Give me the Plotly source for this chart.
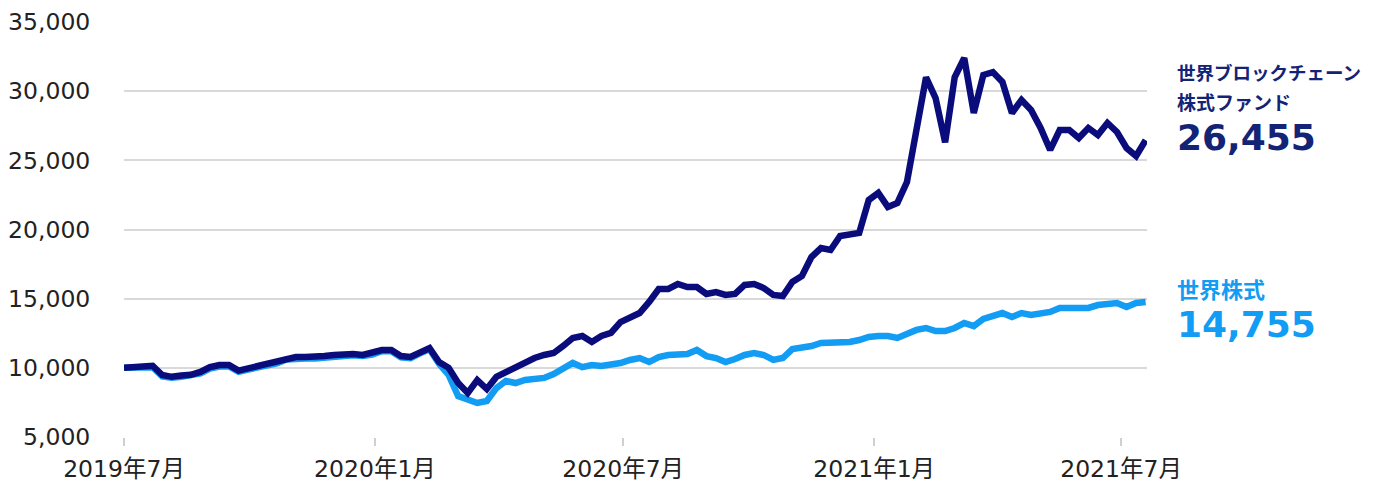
import pandas as pd
import plotly.graph_objects as go

# weekly observation dates
dates = pd.date_range("2019-07-01", periods=108, freq="7D")

blockchain_fund = [
    10000, 10080, 10150, 10150, 9480, 9350, 9450, 9500, 9700, 10050,
    10200, 10200, 9800, 9980, 10130, 10280, 10420, 10700, 10780, 10780,
    10780, 10850, 10930, 11000, 11000, 10930, 11070, 11290, 11290, 10850,
    10780, 11150, 11430, 10420, 10000, 8900, 8180, 9120, 8470, 9340,
    9700, 10000, 10350, 10710, 10930, 11070, 11580, 12160, 12300, 11870,
    12300, 12520, 13310, 13600, 13960, 14760, 15700, 15700, 16060, 15840,
    15840, 15340, 15480, 15270, 15340, 15990, 16060, 15770, 15270, 15190,
    16210, 16640, 18010, 18660, 18520, 19530, 19600, 19750, 22130, 22640,
    21630, 21920, 23430, 27550, 31000, 29500, 26300, 31000, 32400, 28420,
    31170, 31380, 30660, 28420, 29360, 28640, 27340, 25750, 27190, 27190,
    26610, 27340, 26830, 27700, 27050, 25890, 25310, 26455,
]

world_equity = [
    10000, 10000, 10050, 10050, 9380, 9280, 9350, 9420, 9600, 9950,
    10100, 10100, 9720, 9880, 10030, 10180, 10320, 10600, 10680, 10680,
    10680, 10760, 10840, 10900, 10900, 10850, 10950, 11200, 11200, 10760,
    10700, 11050, 11350, 10300, 9480, 7960, 7670, 7460, 7600, 8540,
    9050, 8900, 9120, 9190, 9270, 9550, 9920, 10350, 10050, 10200,
    10130, 10200, 10350, 10570, 10710, 10420, 10780, 10930, 10930, 11000,
    11290, 10850, 10710, 10420, 10640, 10930, 11070, 10930, 10570, 10710,
    11360, 11430, 11580, 11800, 11800, 11800, 11870, 12010, 12230, 12300,
    12300, 12160, 12450, 12740, 12880, 12660, 12660, 12880, 13240, 13020,
    13530, 13750, 13960, 13680, 13960, 13820, 13890, 14040, 14330, 14330,
    14400, 14330, 14540, 14610, 14690, 14400, 14690, 14755,
]

tick_dates = ["2019-07-01", "2020-01-01", "2020-07-01", "2021-01-01", "2021-07-01"]
tick_labels = ["2019年7月", "2020年1月", "2020年7月", "2021年1月", "2021年7月"]
y_ticks = [5000, 10000, 15000, 20000, 25000, 30000, 35000]

fund_name_1 = "世界ブロックチェーン"
fund_name_2 = "株式ファンド"
fund_last = "26,455"
equity_name = "世界株式"
equity_last = "14,755"

NAVY = "#0A0C7C"
NAVY_TXT = "#132476"
LIGHT = "#129CF3"
FONT = "DejaVu Sans, Verdana, Noto Sans CJK JP, sans-serif"
JFONT = "Noto Sans CJK JP, sans-serif"

fig = go.Figure()
fig.add_trace(go.Scatter(x=dates, y=world_equity, mode="lines",
                         line=dict(color=LIGHT, width=6.5), showlegend=False))
fig.add_trace(go.Scatter(x=dates, y=blockchain_fund, mode="lines",
                         line=dict(color=NAVY, width=6.5), showlegend=False))

ann = [
    (fund_name_1, 72, 18.5, NAVY_TXT, JFONT),
    (fund_name_2, 101, 19, NAVY_TXT, JFONT),
    (fund_last, 137, 36, NAVY_TXT, FONT),
    (equity_name, 288, 22, LIGHT, JFONT),
    (equity_last, 324, 36, LIGHT, FONT),
]
for text, ypx, size, color, fam in ann:
    fig.add_annotation(
        text=f"<b>{text}</b>", xref="paper", yref="paper",
        x=(1175 - 124) / (1147 - 124), y=(437 - ypx) / (437 - 22),
        xanchor="left", yanchor="middle", showarrow=False,
        font=dict(size=size, color=color, family=fam),
    )

fig.update_layout(
    width=1357, height=480,
    margin=dict(l=116, r=218, t=14, b=51),
    paper_bgcolor="white", plot_bgcolor="white",
    font=dict(family=FONT, size=23.5, color="#222222"),
    xaxis=dict(
        range=["2019-07-01", "2021-07-20"],
        tickvals=tick_dates, ticktext=tick_labels,
        ticks="outside", ticklen=8, tickcolor="#d0d0d0", tickwidth=2,
        ticklabelstandoff=3,
        showgrid=False, zeroline=False,
        showline=False, automargin=False,
        tickfont=dict(size=23.5, color="#222222", family=FONT),
    ),
    yaxis=dict(
        range=[5000, 35000], tickvals=y_ticks,
        tickformat=",d",
        showgrid=True, gridcolor="#d9d9d9", gridwidth=2,
        zeroline=False, showline=False, automargin=False,
        ticks="outside", ticklen=28, tickcolor="rgba(0,0,0,0)",
        tickfont=dict(size=23.5, color="#222222", family=FONT),
    ),
)

fig.write_html("out.html")
